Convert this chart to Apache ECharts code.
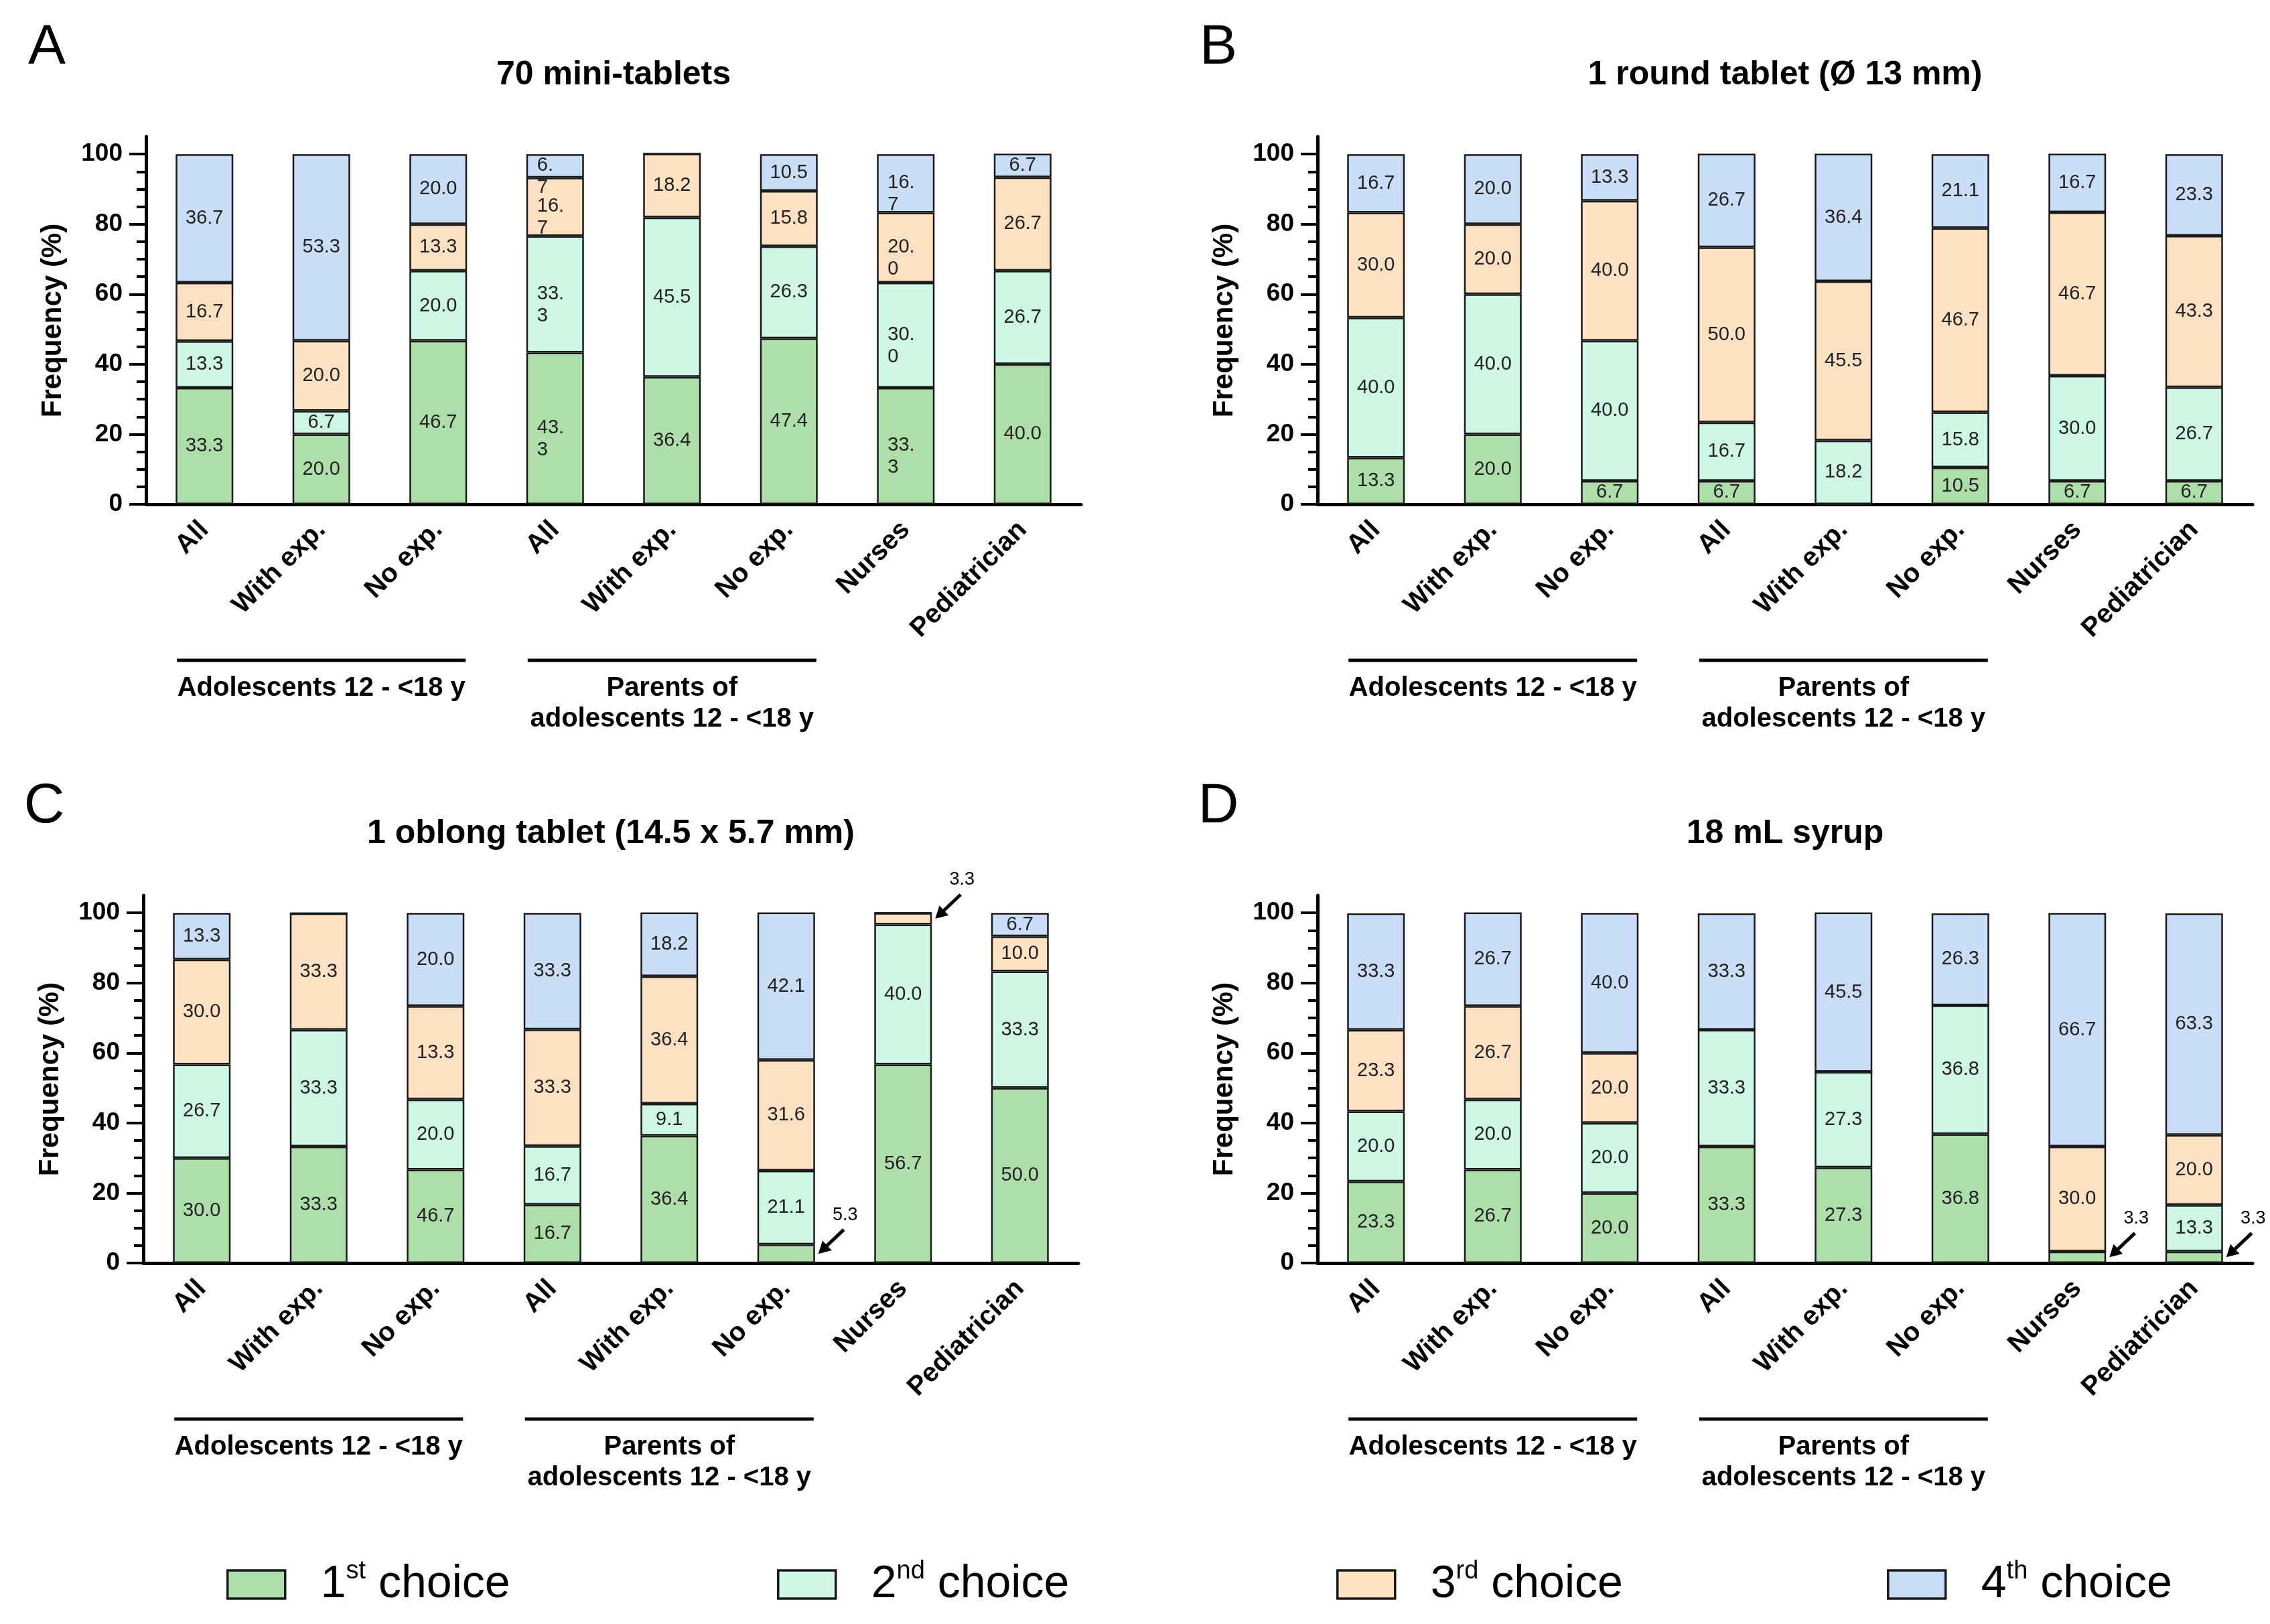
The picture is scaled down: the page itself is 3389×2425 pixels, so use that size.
<!DOCTYPE html>
<html>
<head>
<meta charset="utf-8">
<script src="https://cdn.jsdelivr.net/npm/echarts@6/dist/echarts.min.js"></script>
<style>
html,body{margin:0;padding:0;background:#fff;}
#chart{width:3389px;height:2425px;}
</style>
</head>
<body>
<div id="chart"></div>
<script>
// ---------- DATA ----------
const categories = ['All','With exp.','No exp.','All','With exp.','No exp.','Nurses','Pediatrician'];
const seriesNames = ['1st choice','2nd choice','3rd choice','4th choice'];
const panelTitles = ['70 mini-tablets','1 round tablet (\u00D8 13 mm)','1 oblong tablet (14.5 x 5.7 mm)','18 mL syrup'];
const panelLetters = ['A','B','C','D'];
const yTickLabels = [0,20,40,60,80,100];
const yMinorTicks = [5,10,15,25,30,35,45,50,55,65,70,75,85,90,95];
const groupLabels = [['Adolescents 12 - <18 y'], ['Parents of','adolescents 12 - <18 y']];
const groupSpans = [[0,2],[3,5]];

// Panel A: 70 mini-tablets
const miniFirst  = [33.3,20.0,46.7,43.3,36.4,47.4,33.3,40.0];
const miniSecond = [13.3, 6.7,20.0,33.3,45.5,26.3,30.0,26.7];
const miniThird  = [16.7,20.0,13.3,16.7,18.2,15.8,20.0,26.7];
const miniFourth = [36.7,53.3,20.0, 6.7, 0,  10.5,16.7, 6.7];
// printed label texts where they differ from the plain value
const miniFirstText  = [null,null,null,'43.\n3',null,null,'33.\n3',null];
const miniSecondText = [null,null,null,'33.\n3',null,null,'30.\n0',null];
const miniThirdText  = [null,null,null,'16.\n7',null,null,'20.\n0',null];
const miniFourthText = [null,null,null,'6.\n7', null,null,'16.\n7',null];

// Panel B: 1 round tablet
const roundFirst  = [13.3,20.0, 6.7, 6.7, 0,  10.5, 6.7, 6.7];
const roundSecond = [40.0,40.0,40.0,16.7,18.2,15.8,30.0,26.7];
const roundThird  = [30.0,20.0,40.0,50.0,45.5,52.6,46.7,43.3];
const roundFourth = [16.7,20.0,13.3,26.7,36.4,21.1,16.7,23.3];
const roundThirdText = [null,null,null,null,null,'46.7',null,null];

// Panel C: 1 oblong tablet
const oblongFirst  = [30.0,33.3,26.7,16.7,36.4, 5.3,56.7,50.0];
const oblongSecond = [26.7,33.3,20.0,16.7, 9.1,21.1,40.0,33.3];
const oblongThird  = [30.0,33.3,26.7,33.3,36.4,31.6, 3.3,10.0];
const oblongFourth = [13.3, 0,  26.6,33.3,18.2,42.1, 0,   6.7];
const oblongFirstText  = [null,null,'46.7',null,null,null,null,null];
const oblongThirdText  = [null,null,'13.3',null,null,null,null,null];
const oblongFourthText = [null,null,'20.0',null,null,null,null,null];

// Panel D: 18 mL syrup
const syrupFirst  = [23.3,26.7,20.0,33.3,27.3,36.8, 3.3, 3.3];
const syrupSecond = [20.0,20.0,20.0,33.3,27.3,36.8, 0,  13.3];
const syrupThird  = [23.3,26.7,20.0, 0,   0,   0,  30.0,20.0];
const syrupFourth = [33.3,26.7,40.0,33.3,45.5,26.3,66.7,63.3];

// arrow call-outs: [panel, category, series, text]
const arrowNotes = [[2,6,2,'3.3'],[2,5,0,'5.3'],[3,6,0,'3.3'],[3,7,0,'3.3']];

// ---------- BUILD ----------
const panelData = [
  [miniFirst,miniSecond,miniThird,miniFourth],
  [roundFirst,roundSecond,roundThird,roundFourth],
  [oblongFirst,oblongSecond,oblongThird,oblongFourth],
  [syrupFirst,syrupSecond,syrupThird,syrupFourth]
];
const blank = categories.map(()=>null);
const panelText = [
  [miniFirstText,miniSecondText,miniThirdText,miniFourthText],
  [blank,blank,roundThirdText,blank],
  [oblongFirstText,blank,oblongThirdText,oblongFourthText],
  [blank,blank,blank,blank]
];

const FONT = '"Liberation Sans", Arial, Helvetica, sans-serif';
const colors = ['#AEDFAB','#CEF7E6','#FEE0C2','#C9DDF6'];
const gridLefts = [218,1967,214,1967];
const gridTops = [204,204,1337,1337];
const GW = 1396, GH = 549, BARW = 86;

const grids = [], xAxes = [], yAxes = [], series = [];
for (let g=0; g<4; g++){
  grids.push({left:gridLefts[g], top:gridTops[g], width:GW, height:GH});
  xAxes.push({
    type:'category', gridIndex:g, data:categories,
    axisLine:{lineStyle:{color:'#000',width:5}},
    axisTick:{alignWithLabel:true,length:24,lineStyle:{color:'#000',width:4}},
    axisLabel:{interval:0,rotate:45,margin:32,fontSize:40,fontWeight:'bold',color:'#000',fontFamily:FONT},
    splitLine:{show:false}
  });
  yAxes.push({
    type:'value', gridIndex:g, min:0, max:105, interval:20, position:'left',
    name:'Frequency (%)', nameLocation:'middle', nameGap:118,
    nameTextStyle:{fontSize:42,fontWeight:'bold',color:'#000',fontFamily:FONT},
    axisLine:{show:true,lineStyle:{color:'#000',width:5}},
    axisTick:{show:true,customValues:yTickLabels,length:25,lineStyle:{color:'#000',width:4}},
    axisLabel:{customValues:yTickLabels,margin:35,fontSize:37,fontWeight:'bold',color:'#000',fontFamily:FONT},
    splitLine:{show:false}
  });
  yAxes.push({
    type:'value', gridIndex:g, min:0, max:105, interval:5, position:'left',
    axisLine:{show:false},
    axisTick:{show:true,customValues:yMinorTicks,length:14,lineStyle:{color:'#000',width:4}},
    axisLabel:{show:false}, splitLine:{show:false}
  });
  for (let s=0; s<4; s++){
    const vals = panelData[g][s], txt = panelText[g][s];
    const data = vals.map((v,i)=>{
      const item = {value:v};
      const arrowed = arrowNotes.some(a=>a[0]===g&&a[1]===i&&a[2]===s);
      if (v===0 || arrowed){ item.label = {show:false}; }
      else if (txt[i]){
        if (txt[i].indexOf('\n')>=0){
          item.label = {formatter:txt[i], align:'left', verticalAlign:'top', lineHeight:33, offset:[-27,-17]};
        } else {
          item.label = {formatter:txt[i]};
        }
      }
      return item;
    });
    series.push({
      type:'bar', name:seriesNames[s], stack:'p'+g, xAxisIndex:g, yAxisIndex:g*2,
      barWidth:BARW,
      itemStyle:{color:colors[s],borderColor:'#1a1a1a',borderWidth:2.5},
      label:{show:true,position:'inside',color:'#222',fontSize:29,fontFamily:FONT,
             formatter:p=>Number(p.value).toFixed(1)},
      emphasis:{disabled:true},
      data:data
    });
  }
}

const supMap = {'1st choice':['1','st'],'2nd choice':['2','nd'],'3rd choice':['3','rd'],'4th choice':['4','th']};
const legendLefts = [333,1155,1990,2812];
const legends = seriesNames.map((n,i)=>({
  data:[n], left:legendLefts[i], top:2323, orient:'horizontal',
  itemWidth:86, itemHeight:42, itemGap:0, icon:'rect', selectedMode:false,
  itemStyle:{borderWidth:3.5,borderColor:'#1a1a1a'},
  formatter:name=>'{g|}'+supMap[name][0]+'{s|'+supMap[name][1]+'} choice',
  textStyle:{fontSize:68,fontFamily:FONT,color:'#000',lineHeight:76,
    rich:{g:{width:48},s:{fontSize:38,fontFamily:FONT,color:'#000',verticalAlign:'top',lineHeight:40}}}
}));

const chart = echarts.init(document.getElementById('chart'), null, {renderer:'canvas'});
chart.setOption({
  backgroundColor:'#fff', animation:false,
  grid:grids, xAxis:xAxes, yAxis:yAxes, series:series, legend:legends
});

// ---------- ANNOTATIONS (positions derived from axis scales) ----------
const graphics = [];
function toPx(g, cat, val){ return chart.convertToPixel({xAxisIndex:g, yAxisIndex:g*2}, [cat, val]); }
for (let g=0; g<4; g++){
  const left = gridLefts[g], top = gridTops[g];
  const mid = toPx(g, 0, 0);
  const y0 = mid[1];
  const cx = (toPx(g,0,0)[0] + toPx(g,7,0)[0]) / 2;
  graphics.push({type:'text', x:left-148, y:top-132, style:{text:panelLetters[g], font:'84px '+FONT, fill:'#000', textAlign:'center', textVerticalAlign:'middle'}});
  graphics.push({type:'text', x:cx, y:top-92, style:{text:panelTitles[g], font:'bold 50px '+FONT, fill:'#000', textAlign:'center', textVerticalAlign:'middle'}});
  groupSpans.forEach((sp,k)=>{
    const xa = toPx(g, sp[0], 0)[0] - 41, xb = toPx(g, sp[1], 0)[0] + 41;
    graphics.push({type:'line', shape:{x1:xa,y1:y0+233,x2:xb,y2:y0+233}, style:{stroke:'#000',lineWidth:5}});
    groupLabels[k].forEach((t,j)=>{
      graphics.push({type:'text', x:(xa+xb)/2, y:y0+275+j*46, style:{text:t, font:'bold 40px '+FONT, fill:'#000', textAlign:'center', textVerticalAlign:'middle'}});
    });
  });
}
arrowNotes.forEach(a=>{
  const g=a[0], cat=a[1], s=a[2];
  let base=0; for (let k=0;k<s;k++) base += panelData[g][k][cat];
  const v = panelData[g][s][cat];
  const p = toPx(g, cat, base + v/2);
  const tip = [p[0] + BARW/2 + 5, p[1]];
  const tail = [tip[0] + 38, tip[1] - 36];
  const dx = tip[0]-tail[0], dy = tip[1]-tail[1], L = Math.hypot(dx,dy);
  const ux = dx/L, uy = dy/L, nx = -uy, ny = ux;
  const hb = [tip[0]-ux*18, tip[1]-uy*18];
  graphics.push({type:'line', shape:{x1:tail[0],y1:tail[1],x2:hb[0]+ux*2,y2:hb[1]+uy*2}, style:{stroke:'#000',lineWidth:5}});
  graphics.push({type:'polygon', shape:{points:[tip,[hb[0]+nx*10,hb[1]+ny*10],[hb[0]-nx*10,hb[1]-ny*10]]}, style:{fill:'#000'}});
  graphics.push({type:'text', x:tail[0]+2, y:tail[1]-22, style:{text:a[3], font:'27px '+FONT, fill:'#000', textAlign:'center', textVerticalAlign:'middle'}});
});
chart.setOption({graphic:graphics});
</script>
</body>
</html>
